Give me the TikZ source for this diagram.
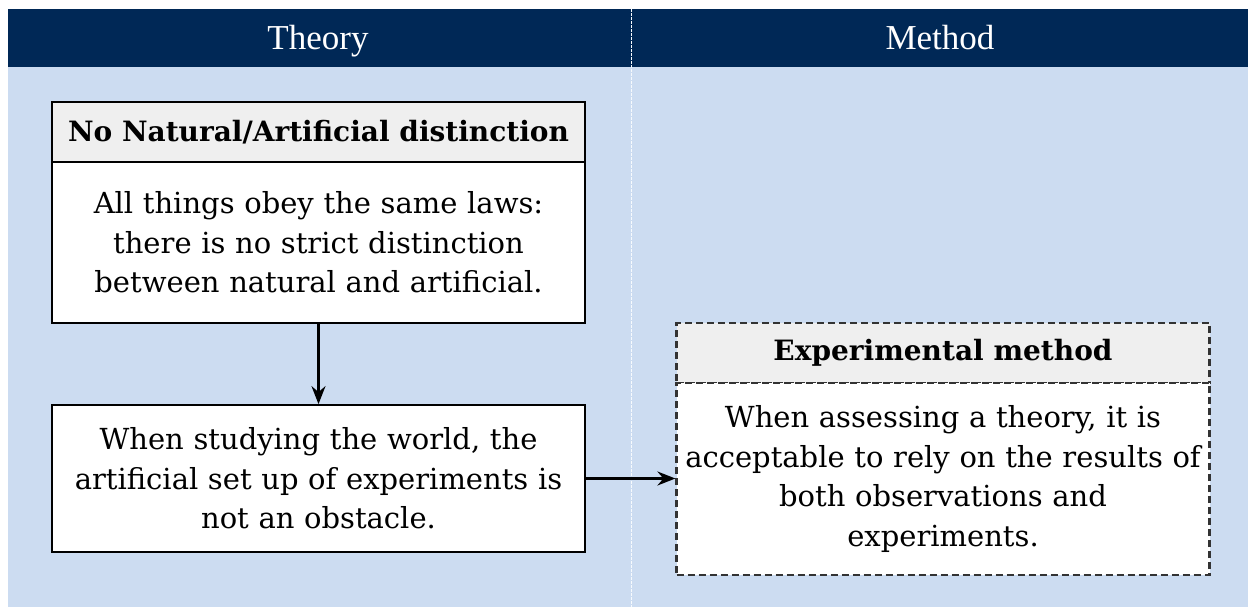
\documentclass[tikz,border=0pt]{standalone}
\usepackage{fontspec}
\setmainfont{DejaVu Serif}
\newfontfamily\headfont{Liberation Serif}
\usetikzlibrary{arrows.meta, positioning}

\definecolor{navy}{HTML}{002856}
\definecolor{paleblue}{HTML}{CCDCF1}
\definecolor{titlegray}{HTML}{EFEFEF}

\tikzset{
  boxtitle/.style={draw=black, line width=1.8pt, fill=titlegray, minimum width=533pt,
    minimum height=60pt, inner sep=0pt, font=\fontsize{28}{30}\selectfont\bfseries},
  boxbody/.style={draw=black, line width=1.8pt, fill=white, minimum width=533pt,
    text width=520pt, align=center, inner sep=0pt, font=\fontsize{29}{39.5}\selectfont},
  dashbox/.style={dash pattern=on 7pt off 4pt, draw=black!80, line width=2.2pt},
  link/.style={line width=2.2pt, -{Stealth[length=18pt, width=14pt, inset=6pt]}}
}

\begin{document}
\begin{tikzpicture}[x=1pt, y=-1pt]
      \useasboundingbox (0,0) rectangle (1248,607);
      % header band and column backgrounds
      \fill[navy] (8,9) rectangle (1248,67);
      \fill[paleblue] (8,67) rectangle (1248,607);
      \draw[white!85!paleblue, line width=1pt, dash pattern=on 3pt off 1pt] (631,9) -- (631,607);
      \foreach \name/\xpos in {Theory/318, Method/940}{
        \node[white, anchor=base, font=\headfont\fontsize{35}{35}\selectfont] at (\xpos, 50) {\name};
        }

      % theory column
      \node[boxtitle] (nattitle) at (318.5, 132) {No Natural/Artificial distinction};
      \node[boxbody, minimum height=161pt] (natbody) at (318.5, 242.5)
        {All things obey the same laws:\\ there is no strict distinction\\ between natural and artificial.};
      \node[boxbody, minimum height=147pt] (worldbox) at (318.5, 478.5)
        {When studying the world, the\\ artificial set up of experiments is\\ not an obstacle.};

      % method column
      \node[boxtitle, dashbox] (exptitle) at (943, 353) {Experimental method};
      \node[boxbody, dashbox, minimum height=192pt] (expbody) at (943, 479)
        {When assessing a theory, it is\\ acceptable to rely on the results of\\ both observations and\\ experiments.};

      \draw[link] (natbody) -- (worldbox);
      \draw[link] (worldbox.east) -- (expbody.west |- worldbox.east);
    \end{tikzpicture}
\end{document}
